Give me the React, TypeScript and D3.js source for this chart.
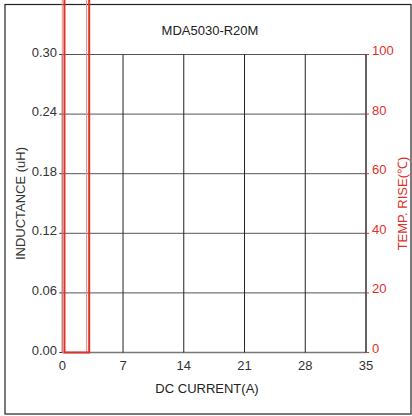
import React from "react";
import * as d3 from "d3";

const xTicks = [0, 7, 14, 21, 28, 35];
const yLeftTicks = [0, 0.06, 0.12, 0.18, 0.24, 0.3];
const yRightTicks = [0, 20, 40, 60, 80, 100];
const inductanceX = [0, 0, 2.8, 2.8];
const inductanceY = [0.45, 0, 0, 0.45];
const tempX = [0.25, 0.25, 3.1, 3.1];
const tempY = [130, 0, 0, 130];

const W = 412, H = 416;
const L = 62.3, R = 366, T = 54.5, B = 352.5;

export default function App() {
  const x = d3.scaleLinear().domain([0, 35]).range([L, R]);
  const yL = d3.scaleLinear().domain([0, 0.3]).range([B, T]);
  const yR = d3.scaleLinear().domain([0, 100]).range([B, T]);
  const font = "'Liberation Sans', Arial, sans-serif";
  const red = "#e0302a";
  const fs = 13;
  const lineL = d3.line<number>().x((_, i) => x(inductanceX[i])).y((d) => yL(d));
  const lineT = d3.line<number>().x((_, i) => x(tempX[i])).y((d) => yR(d));
  return (
    <svg width={W} height={H} style={{ position: "absolute", left: 0, top: 0 }} fontFamily={font}>
      <rect x={0} y={0} width={W} height={H} fill="#fff" />
      <rect x={5} y={4.5} width={406} height={409.5} fill="none" stroke="#222" strokeWidth={1.2} />
      <text x={210} y={35} fontSize={fs} textAnchor="middle" fill="#222">MDA5030-R20M</text>
      {yLeftTicks.map((t) => (
        <g key={"h" + t}>
          <line x1={L} x2={R} y1={yL(t)} y2={yL(t)} stroke={t === 0 ? "#777" : "#555"} strokeWidth={t === 0 ? 1.6 : 1} />
          <line x1={L - 3} x2={L} y1={yL(t)} y2={yL(t)} stroke="#333" />
          <text x={57} y={yL(t) + 2} fontSize={fs} textAnchor="end" fill="#333">{t.toFixed(2)}</text>
        </g>
      ))}
      {xTicks.map((t) => (
        <g key={"v" + t}>
          <line x1={x(t)} x2={x(t)} y1={T} y2={B} stroke="#222" strokeWidth={t === 35 ? 1.4 : 1} />
          <text x={x(t)} y={370} fontSize={fs} textAnchor="middle" fill="#333">{t}</text>
        </g>
      ))}
      {yRightTicks.map((t) => (
        <g key={"r" + t}>
          <line x1={R} x2={R + 3} y1={yR(t)} y2={yR(t)} stroke={red} />
          <text x={372} y={yR(t) + 0.5} fontSize={fs} textAnchor="start" fill={red}>{t}</text>
        </g>
      ))}
      <text x={207} y={393} fontSize={fs} textAnchor="middle" fill="#222">DC CURRENT(A)</text>
      <text transform={`translate(25,${(T + B) / 2}) rotate(-90)`} fontSize={fs} textAnchor="middle" fill="#333">INDUCTANCE (uH)</text>
      <text transform={`translate(407,${(T + B) / 2}) rotate(-90)`} fontSize={fs} textAnchor="middle" fill={red}>TEMP. RISE(℃)</text>
      <path d={lineL(inductanceY) || ""} fill="none" stroke="#f08a84" strokeWidth={1} />
      <path d={lineT(tempY) || ""} fill="none" stroke={red} strokeWidth={2} />
    </svg>
  );
}
